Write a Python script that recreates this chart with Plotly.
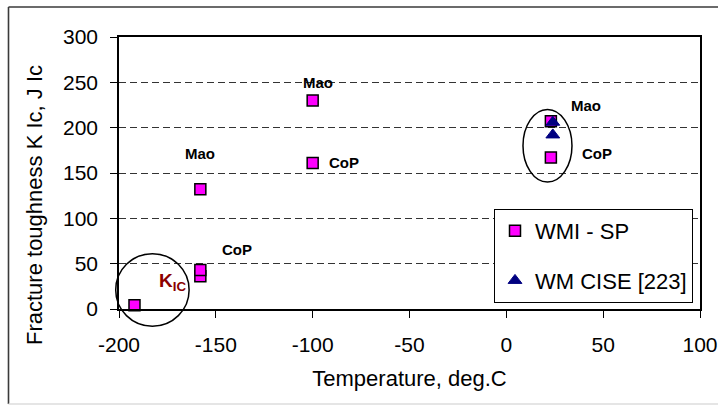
import plotly.graph_objects as go

# Fracture toughness of weld metal vs test temperature
wmi_sp_temp = [-192, -158, -158, -158, -100, -100, 23, 23]
wmi_sp_tough = [4, 36, 43, 132, 161, 230, 167, 207]

cise_temp = [24, 24]
cise_tough = [206, 192]

# Source tags placed next to the points
label_text = ["Mao", "CoP", "Mao", "CoP", "Mao", "CoP"]
label_x = [-158, -84, -97, -139, 41, 47]
label_y = [172, 162, 250, 66, 224, 171]

x_ticks = [-200, -150, -100, -50, 0, 50, 100]
x_tick_text = ["-200", "-150", "-100", "-50", "0", "50", "100"]
y_ticks = [0, 50, 100, 150, 200, 250, 300]
y_tick_text = ["0", "50", "100", "150", "200", "250", "300"]
x_range = [x_ticks[0], x_ticks[-1]]
y_range = [y_ticks[0], y_ticks[-1]]

W, H = 718, 405
ML, MR, MT, MB = 119, 18, 37, 96
PW, PH = W - ML - MR, H - MT - MB

FONT = "Liberation Sans, Arial, sans-serif"


def px_x(px):
    return (px - ML) / PW


def px_y(py):
    return (H - MB - py) / PH


def dx(v):
    return (v - x_range[0]) / (x_range[1] - x_range[0])


def dy(v):
    return (v - y_range[0]) / (y_range[1] - y_range[0])


fig = go.Figure()

fig.add_trace(go.Scatter(
    x=wmi_sp_temp, y=wmi_sp_tough, mode="markers", name="WMI - SP",
    legendgroup="a", cliponaxis=False,
    marker=dict(symbol="square", size=11, color="#FF00FF",
                line=dict(color="black", width=1.5)),
))
fig.add_trace(go.Scatter(
    x=cise_temp, y=cise_tough, mode="markers", name="WM CISE [223]",
    legendgroup="b", cliponaxis=False,
    marker=dict(symbol="triangle-up", size=12, color="#000080",
                line=dict(color="#000080", width=1)),
))

annotations = []
for t, x, y in zip(label_text, label_x, label_y):
    annotations.append(dict(
        x=x, y=y, xref="x", yref="y", text=t, showarrow=False,
        font=dict(family=FONT, size=15, color="black", weight="bold"),
    ))

annotations.append(dict(
    x=-180.5, y=30, xref="x", yref="y", xanchor="left", yanchor="middle",
    text="<b>K<sub>IC</sub></b>", showarrow=False,
    font=dict(family=FONT, size=19, color="#8B0000"),
))

annotations.append(dict(
    x=px_x(34), y=px_y(205), xref="paper", yref="paper",
    xanchor="center", yanchor="middle", textangle=-90,
    text="Fracture toughness K Ic, J Ic", showarrow=False,
    font=dict(family=FONT, size=22, color="black"),
))

shapes = [
    # outer chart frame
    dict(type="line", xref="paper", yref="paper",
         x0=px_x(8.5), x1=px_x(8.5), y0=px_y(7), y1=px_y(404),
         line=dict(color="#3a3a3a", width=1.6)),
    dict(type="line", xref="paper", yref="paper",
         x0=px_x(8.5), x1=px_x(720), y0=px_y(7), y1=px_y(7),
         line=dict(color="#3a3a3a", width=1.6)),
    dict(type="line", xref="paper", yref="paper",
         x0=px_x(8.5), x1=px_x(720), y0=px_y(404), y1=px_y(404),
         line=dict(color="#dddddd", width=1.5)),
    # circled groups
    dict(type="circle", xref="paper", yref="paper",
         x0=dx(-201.7), x1=dx(-163.8), y0=dy(-19), y1=dy(61),
         line=dict(color="black", width=1.5)),
    dict(type="circle", xref="paper", yref="paper",
         x0=dx(8.6), x1=dx(33.9), y0=dy(140), y1=dy(220),
         line=dict(color="black", width=1.5)),
]

fig.update_layout(
    width=W, height=H,
    margin=dict(l=ML, r=MR, t=MT, b=MB, autoexpand=False),
    paper_bgcolor="white", plot_bgcolor="white",
    font=dict(family=FONT, size=21, color="black"),
    showlegend=True,
    legend=dict(
        x=px_x(494), y=px_y(209), xanchor="left", yanchor="top",
        bgcolor="white", bordercolor="black", borderwidth=1,
        font=dict(family=FONT, size=22, color="black"),
        tracegroupgap=18, itemsizing="trace", itemwidth=30,
    ),
    annotations=annotations,
    shapes=shapes,
)

fig.update_xaxes(
    range=x_range, tickvals=x_ticks, ticktext=x_tick_text,
    showgrid=False, zeroline=False,
    showline=True, linecolor="black", linewidth=1.5, mirror=True,
    ticks="outside", ticklen=7, tickcolor="black", tickwidth=1,
    ticklabelstandoff=9,
    title=dict(text="Temperature, deg.C", standoff=16,
               font=dict(family=FONT, size=22, color="black")),
)
fig.update_yaxes(
    range=y_range, tickvals=y_ticks, ticktext=y_tick_text,
    showgrid=True, gridcolor="#333333",
    gridwidth=1, griddash="7px,4px", zeroline=False,
    showline=True, linecolor="black", linewidth=1.5, mirror=True,
    ticks="outside", ticklen=7, tickcolor="black", tickwidth=1,
    ticklabelstandoff=8,
)

fig.write_html("out.html")
